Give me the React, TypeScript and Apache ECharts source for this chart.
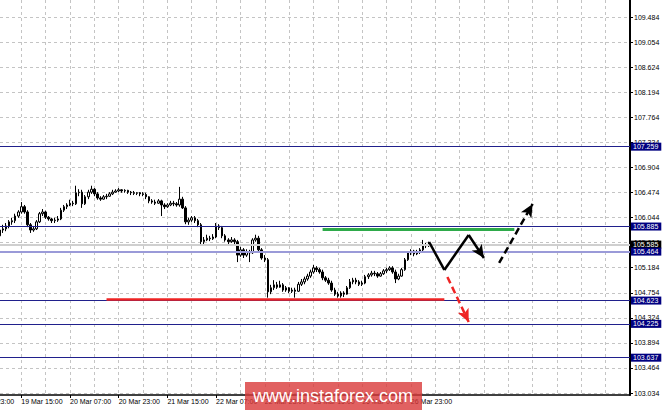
import React, { useEffect, useRef } from "react";
import * as echarts from "echarts";

// Hourly candles, [open, close, low, high], first candle = 19 Mar 08:00
const candles: number[][] = [
  [105.73, 105.83, 105.66, 105.86], [105.83, 105.85, 105.78, 105.92], [105.85, 105.90, 105.81, 105.95],
  [105.90, 105.97, 105.86, 106.00], [105.97, 105.99, 105.92, 106.04], [105.99, 106.07, 105.95, 106.11],
  [106.07, 106.14, 106.04, 106.17], [106.14, 106.23, 106.11, 106.31], [106.23, 106.14, 106.11, 106.26],
  [106.14, 105.92, 105.88, 106.17], [105.92, 105.83, 105.78, 105.95], [105.83, 105.85, 105.80, 105.90],
  [105.85, 105.97, 105.83, 106.00], [105.97, 106.11, 105.95, 106.14], [106.11, 106.14, 106.07, 106.19],
  [106.14, 106.05, 106.02, 106.16], [106.05, 106.02, 105.99, 106.07], [106.02, 105.99, 105.95, 106.04],
  [105.99, 106.00, 105.95, 106.04], [106.00, 106.02, 105.97, 106.07], [106.02, 106.17, 106.00, 106.21],
  [106.17, 106.23, 106.14, 106.26], [106.23, 106.26, 106.19, 106.29], [106.26, 106.29, 106.24, 106.35],
  [106.29, 106.28, 106.24, 106.33], [106.28, 106.47, 106.26, 106.59], [106.47, 106.48, 106.41, 106.53],
  [106.48, 106.28, 106.21, 106.52], [106.28, 106.40, 106.26, 106.43], [106.40, 106.48, 106.36, 106.52],
  [106.48, 106.53, 106.45, 106.59], [106.53, 106.45, 106.41, 106.55], [106.45, 106.38, 106.35, 106.48],
  [106.38, 106.36, 106.33, 106.41], [106.36, 106.40, 106.35, 106.43], [106.40, 106.41, 106.36, 106.45],
  [106.41, 106.45, 106.40, 106.48], [106.45, 106.48, 106.43, 106.52], [106.48, 106.50, 106.47, 106.53],
  [106.50, 106.52, 106.48, 106.55], [106.52, 106.50, 106.47, 106.53], [106.50, 106.51, 106.47, 106.53],
  [106.51, 106.48, 106.45, 106.52], [106.48, 106.47, 106.43, 106.50], [106.47, 106.46, 106.43, 106.50],
  [106.46, 106.47, 106.43, 106.48], [106.47, 106.45, 106.41, 106.48], [106.45, 106.44, 106.41, 106.48],
  [106.44, 106.40, 106.36, 106.47], [106.40, 106.33, 106.29, 106.41], [106.33, 106.31, 106.28, 106.36],
  [106.31, 106.29, 106.26, 106.35], [106.29, 106.33, 106.28, 106.36], [106.33, 106.26, 106.07, 106.35],
  [106.26, 106.23, 106.19, 106.29], [106.23, 106.26, 106.21, 106.29], [106.26, 106.29, 106.24, 106.33],
  [106.29, 106.28, 106.24, 106.33], [106.28, 106.26, 106.23, 106.31], [106.26, 106.36, 106.23, 106.57],
  [106.36, 106.21, 106.19, 106.40], [106.21, 105.97, 105.93, 106.24], [105.97, 106.00, 105.92, 106.04],
  [106.00, 106.04, 105.97, 106.07], [106.04, 105.99, 105.95, 106.07], [105.99, 105.92, 105.88, 106.02],
  [105.92, 105.63, 105.59, 105.95], [105.63, 105.66, 105.59, 105.71], [105.66, 105.69, 105.64, 105.75],
  [105.69, 105.68, 105.64, 105.73], [105.68, 105.71, 105.66, 105.76], [105.71, 105.90, 105.69, 105.95],
  [105.90, 105.87, 105.83, 105.93], [105.87, 105.73, 105.69, 105.90], [105.73, 105.66, 105.63, 105.76],
  [105.66, 105.63, 105.57, 105.69], [105.63, 105.66, 105.61, 105.71], [105.66, 105.63, 105.59, 105.69],
  [105.63, 105.40, 105.28, 105.66], [105.40, 105.49, 105.37, 105.54], [105.49, 105.40, 105.35, 105.52],
  [105.40, 105.45, 105.37, 105.50], [105.45, 105.44, 105.28, 105.49], [105.44, 105.66, 105.42, 105.69],
  [105.66, 105.69, 105.63, 105.75], [105.69, 105.49, 105.45, 105.73], [105.49, 105.35, 105.32, 105.52],
  [105.35, 105.32, 105.28, 105.40], [105.32, 104.77, 104.67, 105.35], [104.77, 104.84, 104.73, 104.89],
  [104.84, 104.89, 104.80, 104.97], [104.89, 104.85, 104.82, 104.94], [104.85, 104.89, 104.84, 104.96],
  [104.89, 104.80, 104.77, 104.92], [104.80, 104.84, 104.77, 104.87], [104.84, 104.78, 104.75, 104.85],
  [104.78, 104.80, 104.75, 104.84], [104.80, 104.78, 104.67, 104.84], [104.78, 104.90, 104.77, 104.94],
  [104.90, 104.94, 104.87, 104.99], [104.94, 104.99, 104.90, 105.03], [104.99, 105.04, 104.96, 105.08],
  [105.04, 105.11, 105.01, 105.15], [105.11, 105.18, 105.08, 105.23], [105.18, 105.15, 105.11, 105.21],
  [105.15, 105.11, 105.08, 105.18], [105.11, 105.01, 104.97, 105.15], [105.01, 104.97, 104.94, 105.04],
  [104.97, 104.92, 104.89, 105.01], [104.92, 104.80, 104.77, 104.96], [104.80, 104.73, 104.70, 104.84],
  [104.73, 104.70, 104.67, 104.77], [104.70, 104.75, 104.67, 104.78], [104.75, 104.73, 104.68, 104.78],
  [104.73, 104.84, 104.72, 104.87], [104.84, 104.94, 104.82, 104.99], [104.94, 104.97, 104.90, 105.01],
  [104.97, 104.94, 104.90, 105.01], [104.94, 104.90, 104.87, 104.97], [104.90, 104.92, 104.87, 104.96],
  [104.92, 105.03, 104.90, 105.06], [105.03, 105.06, 104.99, 105.09], [105.06, 105.09, 105.03, 105.13],
  [105.09, 105.08, 105.04, 105.13], [105.08, 105.04, 105.01, 105.11], [105.04, 105.08, 105.03, 105.11],
  [105.08, 105.13, 105.06, 105.16], [105.13, 105.15, 105.09, 105.18], [105.15, 105.18, 105.13, 105.21],
  [105.18, 105.11, 105.08, 105.21], [105.11, 104.99, 104.92, 105.15], [104.99, 105.04, 104.97, 105.08],
  [105.04, 105.15, 105.03, 105.18], [105.15, 105.32, 105.13, 105.35], [105.32, 105.44, 105.30, 105.47],
  [105.44, 105.47, 105.40, 105.50], [105.47, 105.42, 105.38, 105.49], [105.42, 105.45, 105.40, 105.49],
  [105.45, 105.49, 105.42, 105.52], [105.49, 105.57, 105.45, 105.66], [105.57, 105.56, 105.52, 105.61],
  [105.56, 105.585, 105.54, 105.63],
];

const yTicks = [
  103.034, 103.464, 103.894, 104.324, 104.754, 105.184, 105.614, 106.044,
  106.474, 106.904, 107.334, 107.764, 108.194, 108.624, 109.054, 109.484,
];
const levelLines = [107.259, 105.885, 104.623, 104.225, 103.637];
const pivotLevel = 105.464;
const currentPrice = 105.585;
const previousTimeLabel = "18 Mar 23:00"; // label cut off at the left edge

// trading sessions on the time axis (weekend skipped)
const sessionDays = [
  { day: 19, from: 8 }, { day: 20, from: 0 }, { day: 21, from: 0 }, { day: 22, from: 0 },
  { day: 23, from: 0 }, { day: 26, from: 0 }, { day: 27, from: 0 }, { day: 28, from: 0 },
  { day: 29, from: 0 },
];
const SLOT_COUNT = 208;
const LABEL_PHASE = 7; // 19 Mar 15:00
const LABEL_EVERY = 16;
const GRID_EVERY = 8;

// annotation polylines: [slot, price]
const resistanceLine = [[106, 105.84], [169, 105.84]];
const supportLine = [[35, 104.64], [146, 104.64]];
const zigzag = [[141, 105.625], [146, 105.145], [154, 105.745], [159, 105.35]];
const bullArrow = [[164, 105.265], [175, 106.277]];
const bearArrow = [[147, 105.025], [154, 104.253]];

function buildCategories(): string[] {
  const out: string[] = [];
  for (const s of sessionDays) {
    for (let h = s.from; h < 24; h++) {
      if (out.length >= SLOT_COUNT) return out;
      out.push(`${s.day} Mar ${String(h).padStart(2, "0")}:00`);
    }
  }
  return out;
}

const FONT = "'Liberation Sans', Arial, sans-serif";

export default function App() {
  const ref = useRef<HTMLDivElement>(null);
  useEffect(() => {
    if (!ref.current) return;
    const chart = echarts.init(ref.current, null, { renderer: "svg" });
    const categories = buildCategories();
    const data = candles.map((c, k) => [k, c[0], c[1], c[2], c[3]]);
    const lastSlot = candles.length - 1;
    const isLabelSlot = (i: number) =>
      i >= LABEL_PHASE && (i - LABEL_PHASE) % LABEL_EVERY === 0 && i <= lastSlot;

    const levelLabel = (bg: string, v: number) => ({
      show: true,
      position: "end",
      distance: 1,
      formatter: v.toFixed(3),
      backgroundColor: bg,
      color: "#ffffff",
      fontSize: 7,
      fontFamily: FONT,
      padding: [1, 3, 0, 2],
    });

    const seg = (a: number[], b: number[], style: any, arrow: boolean) => [
      { coord: a, symbol: "none", lineStyle: style, label: { show: false } },
      { coord: b, symbol: arrow ? "arrow" : "none", symbolSize: [9, 13], lineStyle: style, label: { show: false } },
    ];
    const polySegs = (pts: number[][], style: any, arrowLast: boolean) => {
      const out: any[] = [];
      for (let k = 0; k < pts.length - 1; k++) {
        out.push(seg(pts[k], pts[k + 1], style, arrowLast && k === pts.length - 2));
      }
      return out;
    };

    const markData: any[] = [
      { yAxis: currentPrice, lineStyle: { color: "#cfcfcf", width: 2, type: "solid" }, label: levelLabel("#000000", currentPrice) },
      { yAxis: pivotLevel, lineStyle: { color: "#9a9ad8", width: 2, type: "solid" }, label: levelLabel("#000080", pivotLevel) },
      ...levelLines.map((v) => ({
        yAxis: v,
        lineStyle: { color: "#20208c", width: 1, type: "solid" },
        label: levelLabel("#000080", v),
      })),
      ...polySegs(resistanceLine, { color: "#2eaa4a", width: 3, type: "solid" }, false),
      ...polySegs(supportLine, { color: "#ee2424", width: 2.5, type: "solid" }, false),
      ...polySegs(zigzag, { color: "#000000", width: 2.5, type: "solid" }, true),
      ...polySegs(bullArrow, { color: "#000000", width: 2.5, type: [7, 4] }, true),
      ...polySegs(bearArrow, { color: "#ee2424", width: 2.5, type: [7, 4] }, true),
    ];

    chart.setOption({
      animation: false,
      backgroundColor: "#ffffff",
      grid: { left: 0, right: 35, top: 0, bottom: 17, containLabel: false },
      xAxis: {
        type: "category",
        data: categories,
        boundaryGap: false,
        axisLine: { show: true, lineStyle: { color: "#000000", width: 1.5 } },
        axisTick: { show: true, length: 3, interval: (i: number) => isLabelSlot(i), lineStyle: { color: "#000" } },
        axisLabel: {
          interval: (i: number) => isLabelSlot(i),
          align: "left",
          margin: 3,
          color: "#000000",
          fontSize: 7,
          fontFamily: FONT,
        },
        splitLine: {
          show: true,
          interval: (i: number) => i >= LABEL_PHASE && (i - LABEL_PHASE) % GRID_EVERY === 0,
          lineStyle: { color: "#c4c4c4", type: [3, 3], width: 1 },
        },
      },
      yAxis: {
        type: "value",
        position: "right",
        min: 103.0,
        max: 109.776,
        scale: true,
        axisLine: { show: true, lineStyle: { color: "#000000", width: 2 } },
        axisTick: { show: true, length: 3, customValues: yTicks, lineStyle: { color: "#000" } },
        axisLabel: {
          customValues: yTicks,
          formatter: (v: number) => v.toFixed(3),
          margin: 4,
          color: "#000000",
          fontSize: 7,
          fontFamily: FONT,
        },
        splitLine: { show: true, lineStyle: { color: "#c4c4c4", type: [3, 3], width: 1 } },
      },
      series: [
        {
          type: "candlestick",
          data,
          encode: { x: 0, y: [1, 2, 3, 4] },
          barWidth: 2,
          itemStyle: {
            color: "#ffffff",
            color0: "#000000",
            borderColor: "#000000",
            borderColor0: "#000000",
            borderWidth: 1,
          },
          markLine: {
            silent: true,
            symbol: ["none", "none"],
            z: 10,
            label: { show: false },
            data: markData,
          },
        },
      ],
      graphic: [
        {
          type: "text",
          x: -27,
          y: 398,
          style: {
            text: previousTimeLabel,
            fill: "#000000",
            fontSize: 7,
            fontFamily: FONT,
            align: "left",
            verticalAlign: "top",
          },
        },
        {
          type: "rect",
          x: 245,
          y: 382,
          z: 100,
          shape: { width: 177, height: 28 },
          style: { fill: "rgba(217,58,58,0.8)" },
        },
        {
          type: "text",
          x: 333,
          y: 396,
          z: 101,
          style: {
            text: "www.instaforex.com",
            fill: "#ffffff",
            fontSize: 18,
            fontFamily: FONT,
            align: "center",
            verticalAlign: "middle",
          },
        },
      ],
    });
    return () => chart.dispose();
  }, []);
  return (
    <div
      ref={ref}
      style={{ position: "fixed", left: 0, top: 0, width: 665, height: 412 }}
    />
  );
}
